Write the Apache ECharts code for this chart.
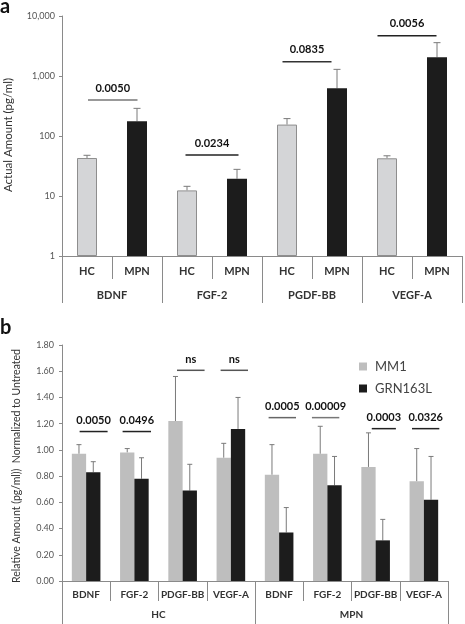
<!DOCTYPE html>
<html>
<head>
<meta charset="utf-8">
<script src="https://cdn.jsdelivr.net/npm/echarts@6/dist/echarts.min.js"></script>
<style>
html,body{margin:0;padding:0;background:#fff;}
#chart{width:465px;height:624px;}
</style>
</head>
<body>
<div id="chart"></div>
<script>
// ---------- Panel a data ----------
const aCategories = ['HC', 'MPN', 'HC', 'MPN', 'HC', 'MPN', 'HC', 'MPN'];
const aGroups = ['BDNF', 'FGF-2', 'PGDF-BB', 'VEGF-A'];
const aValues = [43, 176, 12.4, 19.4, 155, 623, 42.5, 2050];
const aErrors = [4.7, 113, 2.1, 8.4, 40, 668, 4.3, 1545];
const aSigStart = [0.02, 1.97, 3.91, 5.81];
const aSigEnd = [1.01, 3.03, 4.89, 6.99];
const aSigY = [398, 48.2, 1731, 4697];
const aSigLabel = ['0.0050', '0.0234', '0.0835', '0.0056'];
const aYTitle = 'Actual Amount (pg/ml)';

// ---------- Panel b data ----------
const bCategories = ['BDNF', 'FGF-2', 'PDGF-BB', 'VEGF-A', 'BDNF', 'FGF-2', 'PDGF-BB', 'VEGF-A'];
const bGroups = ['HC', 'MPN'];
const bSeriesNames = ['MM1', 'GRN163L'];
const bMM1 = [0.97, 0.98, 1.22, 0.94, 0.81, 0.97, 0.87, 0.76];
const bMM1Err = [0.07, 0.03, 0.34, 0.11, 0.23, 0.21, 0.26, 0.25];
const bGRN = [0.83, 0.78, 0.69, 1.16, 0.37, 0.73, 0.31, 0.62];
const bGRNErr = [0.08, 0.16, 0.20, 0.24, 0.19, 0.22, 0.16, 0.33];
const bSigStart = [-0.135, 0.756, 1.883, 2.787, 3.782, 4.68, 5.92, 6.754];
const bSigEnd = [0.445, 1.345, 2.455, 3.355, 4.35, 5.247, 6.42, 7.32];
const bSigY = [1.14, 1.14, 1.607, 1.607, 1.246, 1.246, 1.162, 1.162];
const bSigLabel = ['0.0050', '0.0496', 'ns', 'ns', '0.0005', '0.00009', '0.0003', '0.0326'];
const bYTitle = 'Relative Amount (pg/ml))  Normalized to Untreated';
const bYTicks = { min: 0, max: 1.8, interval: 0.2 };

// ---------- styles ----------
const FONT = 'Lato, "Liberation Sans", sans-serif';
const AXIS_COLOR = '#8a8a8a';
const aSigColors = ['#777', '#222', '#333', '#222'];
const bSigColors = ['#222', '#222', '#555', '#555', '#666', '#777', '#222', '#222'];

const chart = echarts.init(document.getElementById('chart'), null, { renderer: 'canvas' });

function errRender(offsetPx, cap) {
  return function (params, api) {
    const i = api.value(0), v = api.value(1), e = api.value(2);
    const p0 = api.coord([i, v]);
    const p1 = api.coord([i, v + e]);
    const x = p0[0] + offsetPx;
    const st = { stroke: '#7a7a7a', lineWidth: 1 };
    return {
      type: 'group',
      children: [
        { type: 'line', shape: { x1: x, y1: p0[1], x2: x, y2: p1[1] }, style: st },
        { type: 'line', shape: { x1: x - cap / 2, y1: p1[1], x2: x + cap / 2, y2: p1[1] }, style: st }
      ]
    };
  };
}

function sigRender(labels, colors, fontSize, gap) {
  return function (params, api) {
    const s = api.value(0), e = api.value(1), y = api.value(2);
    const p1 = api.coord([s, y]);
    const p2 = api.coord([e, y]);
    const c = colors[params.dataIndex];
    return {
      type: 'group',
      children: [
        { type: 'line', shape: { x1: p1[0], y1: p1[1], x2: p2[0], y2: p2[1] }, style: { stroke: c, lineWidth: 1.5 } },
        { type: 'text', x: (p1[0] + p2[0]) / 2, y: p1[1] - gap,
          style: { text: labels[params.dataIndex], fontFamily: FONT, fontWeight: 'bold', fontSize: fontSize,
                   fill: '#111', align: 'center', verticalAlign: 'middle' } }
      ]
    };
  };
}

function withComma(v) {
  return String(Math.round(v)).replace(/\B(?=(\d{3})+(?!\d))/g, ',');
}

const aBarData = aValues.map((v, i) => ({
  value: v,
  itemStyle: i % 2 === 0
    ? { color: '#d4d5d7', borderColor: '#8e8e8e', borderWidth: 1 }
    : { color: '#1c1c1c' }
}));

const option = {
  animation: false,
  backgroundColor: '#fff',
  textStyle: { fontFamily: FONT },
  graphic: [
    { type: 'text', left: 0, top: -3, style: { text: 'a', fontFamily: FONT, fontWeight: 'bold', fontSize: 20, fill: '#111' } },
    { type: 'text', left: 0, top: 318, style: { text: 'b', fontFamily: FONT, fontWeight: 'bold', fontSize: 20, fill: '#111' } },
    { type: 'text', x: 8, y: 135, rotation: Math.PI / 2,
      style: { text: aYTitle, fontFamily: FONT, fontSize: 11.5, fill: '#333', align: 'center', verticalAlign: 'middle' } },
    { type: 'text', x: 16.5, y: 466, rotation: Math.PI / 2,
      style: { text: bYTitle, fontFamily: FONT, fontSize: 10.5, fill: '#333', align: 'center', verticalAlign: 'middle' } }
  ],
  legend: {
    data: bSeriesNames,
    orient: 'vertical',
    left: 354, top: 355,
    icon: 'rect',
    itemWidth: 8, itemHeight: 8,
    itemGap: 9,
    textStyle: { fontFamily: FONT, fontSize: 13, color: '#444', padding: [0, 0, 0, 3] }
  },
  grid: [
    { left: 62, top: 16, width: 400, height: 240, outerBoundsMode: 'none' },
    { left: 62, top: 345, width: 386, height: 236, outerBoundsMode: 'none' }
  ],
  xAxis: [
    { type: 'category', gridIndex: 0, position: 'bottom', data: aCategories,
      axisLine: { onZero: false, lineStyle: { color: AXIS_COLOR } },
      axisTick: { show: true, length: 23, interval: 0, lineStyle: { color: AXIS_COLOR } },
      axisLabel: { interval: 0, margin: 10, fontSize: 11, fontWeight: 'bold', color: '#333', fontFamily: FONT } },
    { type: 'category', gridIndex: 0, position: 'bottom', data: aGroups,
      axisLine: { show: false, onZero: false },
      axisTick: { show: true, length: 47, interval: 0, lineStyle: { color: AXIS_COLOR } },
      axisLabel: { interval: 0, margin: 34, fontSize: 11, fontWeight: 'bold', color: '#333', fontFamily: FONT } },
    { type: 'value', gridIndex: 0, show: false, min: -0.5, max: 7.5, axisLine: { onZero: false } },
    { type: 'category', gridIndex: 1, position: 'bottom', data: bCategories,
      axisLine: { onZero: false, lineStyle: { color: AXIS_COLOR } },
      axisTick: { show: true, length: 20, interval: 0, lineStyle: { color: AXIS_COLOR } },
      axisLabel: { interval: 0, margin: 9, fontSize: 10, fontWeight: 'bold', color: '#333', fontFamily: FONT } },
    { type: 'category', gridIndex: 1, position: 'bottom', data: bGroups,
      axisLine: { show: false, onZero: false },
      axisTick: { show: true, length: 50, interval: 0, lineStyle: { color: AXIS_COLOR } },
      axisLabel: { interval: 0, margin: 29, fontSize: 10, fontWeight: 'bold', color: '#333', fontFamily: FONT } },
    { type: 'value', gridIndex: 1, show: false, min: -0.5, max: 7.5, axisLine: { onZero: false } }
  ],
  yAxis: [
    { type: 'log', logBase: 10, gridIndex: 0, min: 1, max: 10000,
      axisLine: { show: true, onZero: false, lineStyle: { color: AXIS_COLOR } },
      axisTick: { show: true, length: 3, lineStyle: { color: AXIS_COLOR } },
      splitLine: { show: false }, minorTick: { show: false },
      axisLabel: { formatter: withComma, fontSize: 9, color: '#555', margin: 7, fontFamily: FONT } },
    { type: 'value', gridIndex: 1, min: bYTicks.min, max: bYTicks.max, interval: bYTicks.interval,
      axisLine: { show: true, onZero: false, lineStyle: { color: AXIS_COLOR } },
      axisTick: { show: true, length: 3, lineStyle: { color: AXIS_COLOR } },
      splitLine: { show: false },
      axisLabel: { formatter: v => v.toFixed(2), fontSize: 9, color: '#555', margin: 8, fontFamily: FONT } }
  ],
  series: [
    { type: 'bar', xAxisIndex: 0, yAxisIndex: 0, barWidth: 20, data: aBarData, z: 2 },
    { type: 'custom', xAxisIndex: 0, yAxisIndex: 0, renderItem: errRender(0, 7),
      encode: { x: 0, y: 1 }, data: aValues.map((v, i) => [i, v, aErrors[i]]), z: 1 },
    { type: 'custom', xAxisIndex: 2, yAxisIndex: 0, renderItem: sigRender(aSigLabel, aSigColors, 11, 12),
      encode: { x: [0, 1], y: 2 }, data: aSigStart.map((s, i) => [s, aSigEnd[i], aSigY[i]]), z: 3 },

    { name: bSeriesNames[0], type: 'bar', xAxisIndex: 3, yAxisIndex: 1, barWidth: 14.3, barGap: '0%',
      itemStyle: { color: '#bebebe' }, data: bMM1, z: 2 },
    { name: bSeriesNames[1], type: 'bar', xAxisIndex: 3, yAxisIndex: 1, barWidth: 14.3, barGap: '0%',
      itemStyle: { color: '#1c1c1c' }, data: bGRN, z: 2 },
    { type: 'custom', xAxisIndex: 3, yAxisIndex: 1, renderItem: errRender(-7.15, 5),
      encode: { x: 0, y: 1 }, data: bMM1.map((v, i) => [i, v, bMM1Err[i]]), z: 1 },
    { type: 'custom', xAxisIndex: 3, yAxisIndex: 1, renderItem: errRender(7.15, 5),
      encode: { x: 0, y: 1 }, data: bGRN.map((v, i) => [i, v, bGRNErr[i]]), z: 1 },
    { type: 'custom', xAxisIndex: 5, yAxisIndex: 1, renderItem: sigRender(bSigLabel, bSigColors, 11, 11),
      encode: { x: [0, 1], y: 2 }, data: bSigStart.map((s, i) => [s, bSigEnd[i], bSigY[i]]), z: 3 }
  ]
};

chart.setOption(option);
</script>
</body>
</html>
